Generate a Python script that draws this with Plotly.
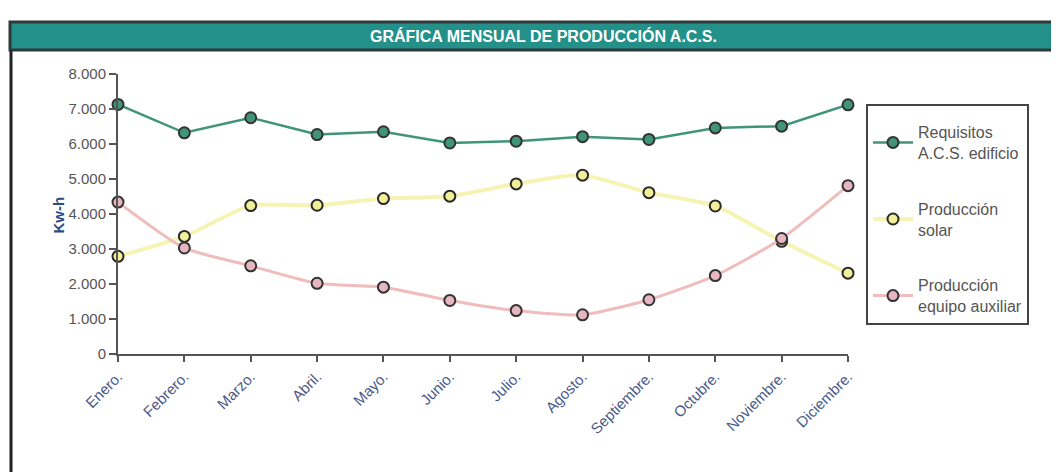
import plotly.graph_objects as go

meses = ["Enero.", "Febrero.", "Marzo.", "Abril.", "Mayo.", "Junio.", "Julio.",
         "Agosto.", "Septiembre.", "Octubre.", "Noviembre.", "Diciembre."]
requisitos = [7130, 6320, 6750, 6270, 6350, 6030, 6080, 6210, 6130, 6460, 6510, 7120]
solar = [2790, 3360, 4240, 4250, 4440, 4510, 4860, 5110, 4610, 4230, 3220, 2310]
auxiliar = [4340, 3030, 2520, 2020, 1910, 1530, 1240, 1120, 1550, 2240, 3300, 4810]
ytick_vals = [0, 1000, 2000, 3000, 4000, 5000, 6000, 7000, 8000]
ytick_text = ["0", "1.000", "2.000", "3.000", "4.000", "5.000", "6.000", "7.000", "8.000"]

OFF = 8  # page body margin
W, H = 1059 - OFF, 472 - OFF
L, R, T, B = 118, 848, 74, 354  # screen pixels
pw, ph = R - L, B - T

def px(x):
    return (x - L) / pw

def py(y):
    return (B - y) / ph

fig = go.Figure()
fig.add_trace(go.Scatter(
    x=meses, y=requisitos, name="Requisitos<br>A.C.S. edificio",
    mode="lines+markers", legendgroup="a",
    line=dict(color="#3f9479", width=2.5),
    marker=dict(size=11, color="#3f9479", line=dict(color="#333333", width=2)),
    cliponaxis=False))
fig.add_trace(go.Scatter(
    x=meses, y=solar, name="Producción<br>solar",
    mode="lines+markers", legendgroup="b",
    line=dict(color="#f6f4b4", width=4, shape="spline", smoothing=0.6),
    marker=dict(size=11, color="#f1ef98", line=dict(color="#2a2a2a", width=2)),
    cliponaxis=False))
fig.add_trace(go.Scatter(
    x=meses, y=auxiliar, name="Producción<br>equipo auxiliar",
    mode="lines+markers", legendgroup="c",
    line=dict(color="#f0bcbc", width=3, shape="spline", smoothing=0.6),
    marker=dict(size=11, color="#e6b6c2", line=dict(color="#333333", width=2)),
    cliponaxis=False))

shapes = [
    dict(type="rect", xref="paper", yref="paper",
         x0=px(10), x1=px(1062), y0=py(50), y1=py(22),
         fillcolor="#23918a", line=dict(color="#2e3b3a", width=3), layer="above"),
    dict(type="line", xref="paper", yref="paper",
         x0=px(11), x1=px(11), y0=py(50), y1=py(475),
         line=dict(color="#222222", width=3)),
    dict(type="line", xref="paper", yref="paper",
         x0=px(1057), x1=px(1057), y0=py(50), y1=py(475),
         line=dict(color="#555555", width=2)),
]

annotations = [
    dict(text="<b>GRÁFICA MENSUAL DE PRODUCCIÓN A.C.S.</b>", xref="paper", yref="paper",
         x=px(543), y=py(36), showarrow=False, yanchor="middle",
         font=dict(family="Liberation Sans, Arial, sans-serif", size=16, color="white")),
    dict(text="<b>Kw-h</b>", xref="paper", yref="paper", x=px(47), y=py(215),
         showarrow=False, textangle=-90,
         font=dict(family="Liberation Sans, Arial, sans-serif", size=15, color="#2d4a86")),
]

fig.update_layout(
    width=W, height=H,
    margin=dict(l=L - OFF, r=W - (R - OFF), t=T - OFF, b=H - (B - OFF), autoexpand=False),
    paper_bgcolor="white", plot_bgcolor="white",
    font=dict(family="Liberation Sans, Arial, sans-serif", size=13, color="#555555"),
    showlegend=True,
    legend=dict(x=px(866), y=py(104), xanchor="left", yanchor="top",
                bordercolor="#444444", borderwidth=2, bgcolor="white",
                font=dict(size=16, color="#555555"), tracegroupgap=32,
                itemwidth=40, title=dict(text=" ", font=dict(size=7))),
    shapes=shapes, annotations=annotations,
    xaxis=dict(type="category", range=[0, 11], showgrid=False,
               showline=True, linecolor="#555555", linewidth=2,
               ticks="outside", ticklen=6, tickcolor="#555555", tickwidth=2,
               tickangle=-45, tickfont=dict(size=15, color="#4a5a8a")),
    yaxis=dict(range=[0, 8000], showgrid=False, zeroline=False,
               showline=True, linecolor="#555555", linewidth=2,
               ticks="outside", ticklen=7, tickcolor="#555555", tickwidth=2,
               tickvals=ytick_vals, ticktext=ytick_text,
               tickfont=dict(size=15, color="#555555")),
)

fig.write_html("out.html")
